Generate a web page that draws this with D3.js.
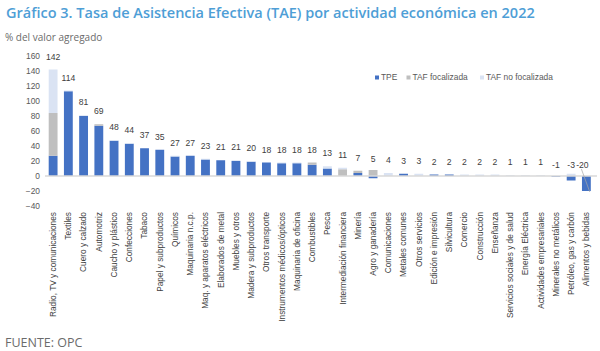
<!DOCTYPE html>
<html><head><meta charset="utf-8">
<script src="https://cdn.jsdelivr.net/npm/d3@7"></script>
<style>
body{margin:0;background:#fff;}
svg{display:block;}
</style></head>
<body>
<svg id="c" width="600" height="351"></svg>
<script>
const categories = ["Radio, TV y comunicaciones","Textiles","Cuero y calzado","Automotriz","Caucho y plástico","Confecciones","Tabaco","Papel y subproductos","Químicos","Maquinaria n.c.p.","Maq. y aparatos eléctricos","Elaborados de metal","Muebles y otros","Madera y subproductos","Otros transporte","Instrumentos médicos/ópticos","Maquinaria de oficina","Combustibles","Pesca","Intermediación financiera","Minería","Agro y ganadería","Comunicaciones","Metales comunes","Otros servicios","Edición e impresión","Silvicultura","Comercio","Construcción","Enseñanza","Servicios sociales y de salud","Energía Eléctrica","Actividades empresariales","Minerales no metálicos","Petróleo, gas y carbón","Alimentos y bebidas"];
const tpe      = [27,113,80,67,47,43,37,35,26,27,22,21,20,19,18,17,17,15,10,0,4,-3,0,3,0,2,2,0,0,0,0,0,0,-1,-6,-20];
const tafFocal = [57,0,0,2,0,0,0,0,0,0,0,0,0,0,0,0,0,3,0,9,3,8,0,0,0,0,0,0,0,0,0,0,0,0,0,0];
const tafNoFocal=[58,1,1,0,1,1,0,0,1,0,1,0,1,1,0,1,1,0,3,2,0,0,4,0,3,0,0,2,2,2,1,1,1,0,3,0];
const totals   = [142,114,81,69,48,44,37,35,27,27,23,21,21,20,18,18,18,18,13,11,7,5,4,3,3,2,2,2,2,2,1,1,1,-1,-3,-20];
const seriesNames = ["TPE","TAF focalizada","TAF no focalizada"];
const yTicks = [-40,-20,0,20,40,60,80,100,120,140,160];

const colors = ["#4472C4","#BFBFBF","#DAE3F3"];
const svg = d3.select("#c");

// Title
svg.append("text").attr("x",6).attr("y",18)
  .attr("font-family","'Open Sans',sans-serif").attr("font-weight",600)
  .attr("font-size",14.5).attr("fill","#4E9ED6")
  .text("Gráfico 3. Tasa de Asistencia Efectiva (TAE) por actividad económica en 2022");
svg.append("text").attr("x",5).attr("y",41)
  .attr("font-family","'Open Sans',sans-serif").attr("font-size",10).attr("fill","#6b6b6b")
  .text("% del valor agregado");
svg.append("text").attr("x",5).attr("y",347)
  .attr("font-family","'Open Sans',sans-serif").attr("font-size",12.5).attr("fill","#6b6b6b")
  .text("FUENTE: OPC");

const x = d3.scaleBand().domain(categories).range([45.5,594]).paddingInner(0.42).paddingOuter(0.21);
const y = d3.scaleLinear().domain([-40,160]).range([206,56]);

const rows = categories.map((c,i)=>({cat:c, [seriesNames[0]]:tpe[i],[seriesNames[1]]:tafFocal[i],[seriesNames[2]]:tafNoFocal[i]}));
const stack = d3.stack().keys(seriesNames).offset(d3.stackOffsetDiverging);
const layers = stack(rows);

// y axis
const ya = svg.append("g").attr("transform","translate(40,0)")
  .call(d3.axisLeft(y).tickValues(yTicks).tickSize(0).tickPadding(0));
ya.select(".domain").remove();
ya.selectAll("text").attr("font-family","'Liberation Sans',Arial,sans-serif").attr("font-size",8.4).attr("fill","#595959");

// bars
svg.append("g").selectAll("g").data(layers).join("g")
  .attr("fill",(d,i)=>colors[i])
  .selectAll("rect").data(d=>d).join("rect")
  .attr("x",d=>x(d.data.cat)).attr("width",x.bandwidth())
  .attr("y",d=>y(Math.max(d[0],d[1])))
  .attr("height",d=>Math.abs(y(d[0])-y(d[1])));

// zero line
svg.append("line").attr("x1",45).attr("x2",597).attr("y1",y(0)).attr("y2",y(0))
  .attr("stroke","#D9D9D9").attr("stroke-width",1.5);

// value labels
const lab = svg.append("g").attr("font-family","'Liberation Sans',Arial,sans-serif").attr("font-size",8.6).attr("fill","#404040").attr("text-anchor","middle");
categories.forEach((c,i)=>{
  const t = totals[i];
  const cy = t>=0 ? y(t)-13 : y(0)-11;
  let cx = x(c)+x.bandwidth()/2;
  if (t <= -10) cx -= 4;
  lab.append("text").attr("x",cx).attr("y",cy+3).text(t);
  if (t <= -10) {
    svg.append("line").attr("x1",cx-1).attr("y1",cy+4).attr("x2",x(c)+x.bandwidth()-1).attr("y2",y(t)+1)
      .attr("stroke","#A6A6A6").attr("stroke-width",0.7);
  }
});

// category labels
svg.append("g").selectAll("text").data(categories).join("text")
  .attr("transform",d=>`translate(${x(d)+x.bandwidth()/2},212) rotate(-90)`)
  .attr("dy","0.35em").attr("text-anchor","end")
  .attr("font-family","'Liberation Sans',Arial,sans-serif").attr("font-size",8.3).attr("fill","#404040")
  .text(d=>d);

// legend
const legX = [375,406.5,480];
const lg = svg.append("g");
seriesNames.forEach((s,i)=>{
  lg.append("rect").attr("x",legX[i]).attr("y",75.5).attr("width",4).attr("height",4).attr("fill",colors[i]);
  lg.append("text").attr("x",legX[i]+6).attr("y",80.3)
    .attr("font-family","'Liberation Sans',Arial,sans-serif").attr("font-size",8.4).attr("fill","#595959").text(s);
});
</script>
</body></html>
